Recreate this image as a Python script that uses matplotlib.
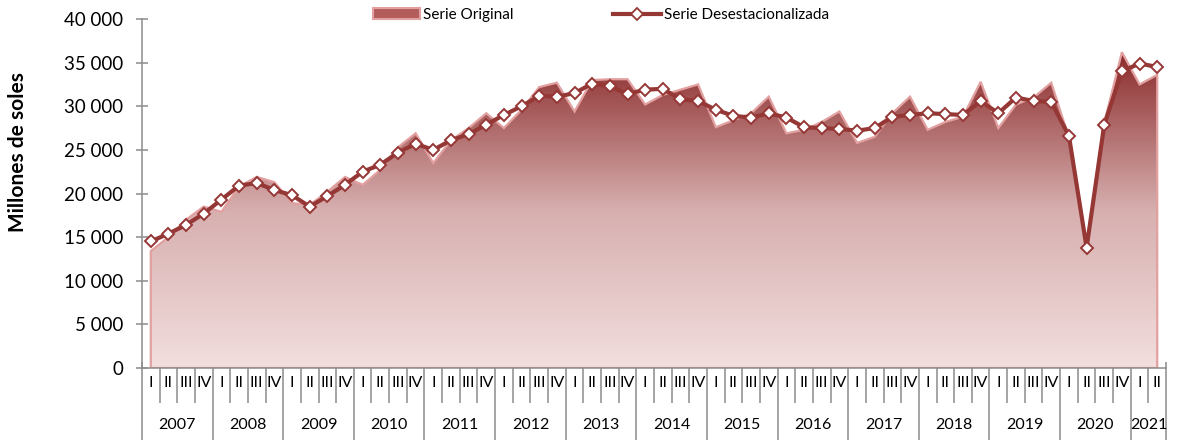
import numpy as np
import matplotlib
matplotlib.use('Agg')
import matplotlib.pyplot as plt
from matplotlib.colors import LinearSegmentedColormap
from matplotlib.patches import Polygon, Patch
from matplotlib.lines import Line2D

plt.rcParams['font.family'] = ['Lato', 'DejaVu Sans']

years = ['2007', '2008', '2009', '2010', '2011', '2012', '2013', '2014',
         '2015', '2016', '2017', '2018', '2019', '2020', '2021']
quarters_per_year = [4] * 14 + [2]
quarter_names = ['I', 'II', 'III', 'IV']

# serie original (area)
original = [13400, 15000, 17000, 18500, 17900, 20800, 21900, 21300,
            18900, 18700, 20200, 21900, 21000, 22700, 25300, 26900,
            23500, 26100, 27500, 29200, 27500, 29600, 32200, 32700,
            29400, 33000, 33100, 33100, 30200, 31300, 31900, 32500,
            27600, 28400, 29200, 31100, 26900, 27300, 28200, 29400,
            25800, 26500, 29200, 31100, 27300, 28200, 28800, 32800,
            27500, 30200, 31000, 32700, 26400, 13900, 28100, 36200,
            32500, 33600]

# serie desestacionalizada (linea)
desest = [14500, 15400, 16400, 17700, 19300, 20900, 21200, 20400,
          19800, 18500, 19700, 21000, 22500, 23300, 24700, 25700,
          25000, 26100, 26800, 27900, 29000, 30000, 31200, 31100,
          31500, 32600, 32300, 31400, 31900, 32000, 30800, 30600,
          29600, 28900, 28700, 29200, 28700, 27600, 27500, 27400,
          27200, 27500, 28800, 29000, 29200, 29100, 29000, 30600,
          29200, 31000, 30600, 30500, 26600, 13800, 27900, 34000,
          34900, 34500]

n = len(original)
x = np.arange(n)

fig = plt.figure(figsize=(11.77, 4.41), dpi=100)
ax = fig.add_axes([0.1206, 0.1655, 0.8701, 0.7914])

# area with vertical gradient
dark_red = '#953735'
cmap = LinearSegmentedColormap.from_list('g', ['#F3DEDE', '#D7AFAF', '#8B2B2B'])
grad = np.linspace(1, 0, 256).reshape(-1, 1)
ymax = max(original)
im = ax.imshow(grad, cmap=cmap, vmin=0, vmax=1, extent=[x[0], x[-1], 0, ymax],
               aspect='auto', origin='upper', zorder=1)
verts = np.vstack([[x[0], 0], np.column_stack([x, original]), [x[-1], 0]])
poly = Polygon(verts, closed=True, facecolor='none', edgecolor='#E2A0A0',
               lw=1.6, zorder=2)
ax.add_patch(poly)
im.set_clip_path(poly)

ax.plot(x, desest, color=dark_red, lw=3, marker='D', ms=6.5, mfc='white',
        mec=dark_red, mew=1.4, zorder=3)

ax.set_xlim(-0.5, n - 0.5)
ax.set_ylim(0, 40000)

# y axis
ax.set_yticks(np.arange(0, 40001, 5000))
ax.set_yticklabels([f'{v:,.0f}'.replace(',', ' ') for v in np.arange(0, 40001, 5000)],
                   fontsize=13.5)
ax.tick_params(axis='y', direction='inout', length=8.5, width=1.1, color='#8c8c8c', pad=9)
ax.set_ylabel('Millones de soles', fontsize=15, fontweight='bold')
ax.yaxis.set_label_coords(-0.111, 0.62)

for s in ['top', 'right']:
    ax.spines[s].set_visible(False)
for s in ['left', 'bottom']:
    ax.spines[s].set_color('#8c8c8c')
    ax.spines[s].set_linewidth(1.1)

# two-level category axis
year_edges = np.concatenate([[0], np.cumsum(quarters_per_year)]) - 0.5
q_edges = np.arange(n + 1) - 0.5
ax.set_xticks(year_edges)
ax.set_xticks(q_edges, minor=True)
ax.set_xticklabels([])
ax.tick_params(axis='x', which='major', direction='out', length=52, width=1.1, color='#8c8c8c')
ax.tick_params(axis='x', which='minor', direction='out', length=25, width=1.1, color='#8c8c8c')
sec = ax.secondary_xaxis('bottom')
sec.set_xticks(q_edges)
sec.tick_params(direction='in', length=4.3, width=1.1, color='#8c8c8c', labelbottom=False)
sec.spines['bottom'].set_visible(False)

tr = ax.get_xaxis_transform()
pos = 0
for yr, nq in zip(years, quarters_per_year):
    for q in range(nq):
        ax.text(pos + q, -0.043, quarter_names[q], transform=tr, ha='center',
                va='center', fontsize=11.5)
    ax.text(pos + (nq - 1) / 2, -0.163, yr, transform=tr, ha='center',
            va='center', fontsize=11.5)
    pos += nq

handles = [Patch(facecolor='#B25C5C', edgecolor='#E2A0A0', lw=1.5),
           Line2D([], [], color=dark_red, lw=3, marker='D', ms=6, mfc='white',
                  mec=dark_red, mew=1.3)]
fig.legend(handles, ['Serie Original', 'Serie Desestacionalizada'], loc='center',
           bbox_to_anchor=(0.5105, 0.966), ncol=2, frameon=False, fontsize=11,
           handlelength=3.1, handletextpad=0.2, columnspacing=6.5)

fig.savefig('out.png', dpi=100)
